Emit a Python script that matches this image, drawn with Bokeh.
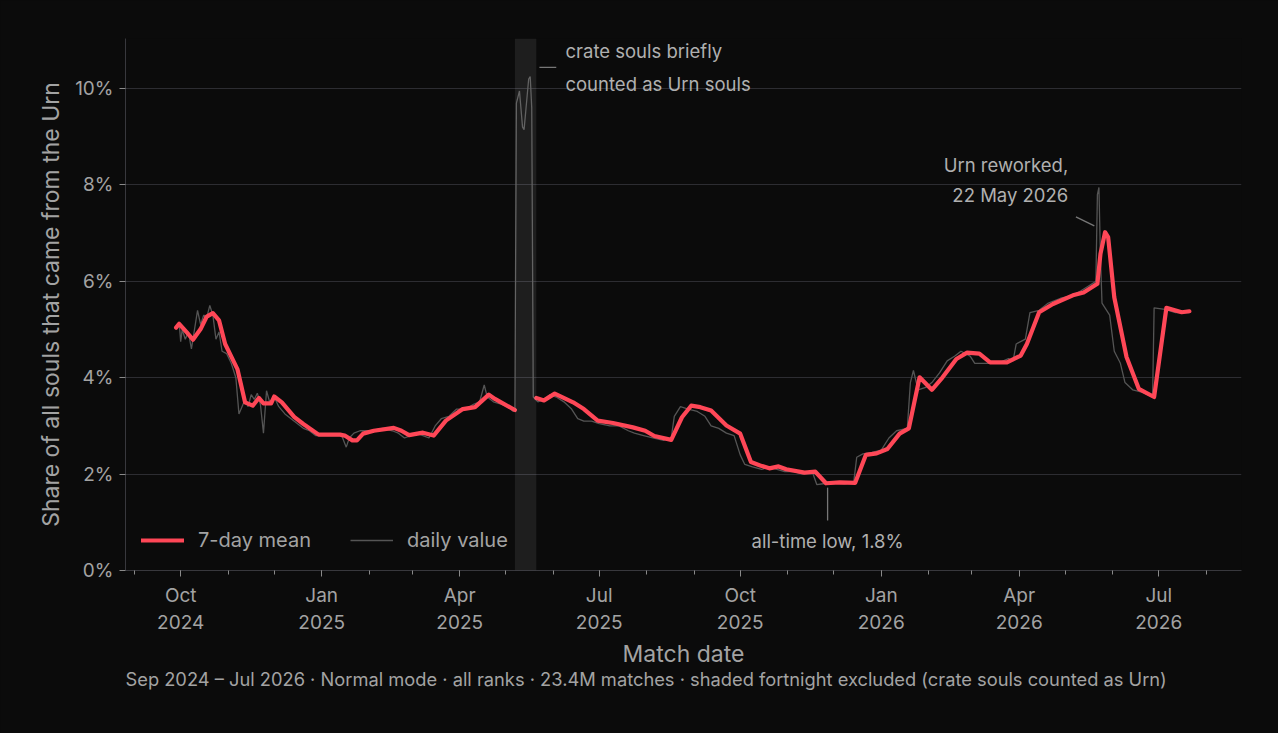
import numpy as np
import pandas as pd
from bokeh.plotting import figure
from bokeh.models import (Range1d, FixedTicker, BoxAnnotation, Label, Title,
                          PrintfTickFormatter, ColumnDataSource)
from bokeh.embed import file_html
from bokeh.resources import INLINE

# ---------------- data ----------------
mean_dates = [
    "2024-09-28", "2024-09-30", "2024-10-05", "2024-10-09", "2024-10-14", "2024-10-18",
    "2024-10-22", "2024-10-26", "2024-10-30", "2024-11-07", "2024-11-12", "2024-11-17",
    "2024-11-21", "2024-11-24", "2024-11-29", "2024-12-01", "2024-12-06", "2024-12-14",
    "2024-12-20", "2024-12-30", "2025-01-13", "2025-01-16", "2025-01-21", "2025-01-24",
    "2025-01-28", "2025-02-04", "2025-02-17", "2025-02-22", "2025-02-27", "2025-03-08",
    "2025-03-15", "2025-03-23", "2025-04-03", "2025-04-11", "2025-04-20", "2025-04-24",
    "2025-05-07", "2025-05-14", "2025-05-21", "2025-05-26", "2025-06-02", "2025-06-14",
    "2025-06-21", "2025-06-30", "2025-07-10", "2025-07-23", "2025-07-31", "2025-08-06",
    "2025-08-17", "2025-08-24", "2025-08-30", "2025-09-05", "2025-09-12", "2025-09-22",
    "2025-10-01", "2025-10-08", "2025-10-14", "2025-10-20", "2025-10-26", "2025-10-31",
    "2025-11-12", "2025-11-19", "2025-11-26", "2025-12-05", "2025-12-15", "2025-12-22",
    "2025-12-29", "2026-01-05", "2026-01-13", "2026-01-19", "2026-01-26", "2026-02-03",
    "2026-02-10", "2026-02-19", "2026-02-26", "2026-03-06", "2026-03-13", "2026-03-24",
    "2026-04-02", "2026-04-06", "2026-04-14", "2026-04-23", "2026-05-06", "2026-05-13",
    "2026-05-22", "2026-05-24", "2026-05-27", "2026-05-29", "2026-06-02", "2026-06-10",
    "2026-06-18", "2026-06-28", "2026-07-06", "2026-07-16", "2026-07-21",
]
mean_values = [
    5.04, 5.12, 4.94, 4.79, 5.01, 5.27,
    5.34, 5.19, 4.70, 4.18, 3.49, 3.42,
    3.58, 3.47, 3.47, 3.61, 3.49, 3.19,
    3.04, 2.82, 2.82, 2.80, 2.70, 2.70,
    2.84, 2.90, 2.96, 2.90, 2.81, 2.86,
    2.80, 3.11, 3.35, 3.39, 3.65, 3.56,
    3.33, np.nan, 3.58, 3.53, 3.67, 3.49,
    3.35, 3.11, 3.06, 2.97, 2.90, 2.79,
    2.71, 3.18, 3.42, 3.39, 3.32, 3.01,
    2.84, 2.25, 2.18, 2.12, 2.16, 2.10,
    2.03, 2.05, 1.81, 1.83, 1.82, 2.40,
    2.43, 2.52, 2.84, 2.95, 4.01, 3.75,
    4.01, 4.39, 4.52, 4.50, 4.32, 4.32,
    4.46, 4.70, 5.36, 5.53, 5.71, 5.77,
    5.95, 6.57, 7.02, 6.92, 5.67, 4.43,
    3.77, 3.60, 5.45, 5.36, 5.38,
]

daily_dates = [
    "2024-09-28", "2024-09-30", "2024-10-01", "2024-10-02", "2024-10-04", "2024-10-06",
    "2024-10-08", "2024-10-10", "2024-10-12", "2024-10-14", "2024-10-16", "2024-10-18",
    "2024-10-20", "2024-10-22", "2024-10-24", "2024-10-26", "2024-10-28", "2024-10-31",
    "2024-11-03", "2024-11-06", "2024-11-08", "2024-11-10", "2024-11-12", "2024-11-14",
    "2024-11-16", "2024-11-18", "2024-11-20", "2024-11-22", "2024-11-24", "2024-11-26",
    "2024-11-28", "2024-12-01", "2024-12-04", "2024-12-08", "2024-12-12", "2024-12-16",
    "2024-12-20", "2024-12-24", "2024-12-28", "2025-01-02", "2025-01-08", "2025-01-14",
    "2025-01-17", "2025-01-19", "2025-01-22", "2025-01-26", "2025-02-02", "2025-02-10",
    "2025-02-16", "2025-02-20", "2025-02-24", "2025-02-28", "2025-03-04", "2025-03-08",
    "2025-03-12", "2025-03-16", "2025-03-20", "2025-03-25", "2025-03-30", "2025-04-05",
    "2025-04-10", "2025-04-14", "2025-04-17", "2025-04-19", "2025-04-23", "2025-04-28",
    "2025-05-02", "2025-05-06", "2025-05-07", "2025-05-08", "2025-05-10", "2025-05-12",
    "2025-05-13", "2025-05-14", "2025-05-16", "2025-05-17", "2025-05-18", "2025-05-19",
    "2025-05-22", "2025-05-26", "2025-05-30", "2025-06-03", "2025-06-08", "2025-06-13",
    "2025-06-17", "2025-06-21", "2025-06-26", "2025-07-01", "2025-07-08", "2025-07-14",
    "2025-07-20", "2025-07-24", "2025-07-30", "2025-08-05", "2025-08-12", "2025-08-17",
    "2025-08-19", "2025-08-23", "2025-08-28", "2025-09-03", "2025-09-08", "2025-09-12",
    "2025-09-17", "2025-09-22", "2025-09-27", "2025-10-01", "2025-10-04", "2025-10-09",
    "2025-10-15", "2025-10-20", "2025-10-25", "2025-10-30", "2025-11-05", "2025-11-11",
    "2025-11-17", "2025-11-20", "2025-11-24", "2025-12-01", "2025-12-08", "2025-12-14",
    "2025-12-16", "2025-12-20", "2025-12-26", "2026-01-01", "2026-01-06", "2026-01-11",
    "2026-01-18", "2026-01-20", "2026-01-22", "2026-01-25", "2026-01-30", "2026-02-03",
    "2026-02-08", "2026-02-13", "2026-02-18", "2026-02-22", "2026-02-28", "2026-03-03",
    "2026-03-10", "2026-03-18", "2026-03-25", "2026-03-28", "2026-03-30", "2026-04-05",
    "2026-04-08", "2026-04-14", "2026-04-20", "2026-04-28", "2026-05-05", "2026-05-11",
    "2026-05-16", "2026-05-21", "2026-05-22", "2026-05-23", "2026-05-24", "2026-05-25",
    "2026-05-30", "2026-06-02", "2026-06-06", "2026-06-09", "2026-06-14", "2026-06-20",
    "2026-06-27", "2026-06-28", "2026-07-05", "2026-07-12", "2026-07-21",
]
daily_values = [
    5.00, 5.15, 4.75, 5.00, 4.80, 4.95,
    4.60, 5.00, 5.40, 5.10, 5.30, 5.25,
    5.50, 5.30, 4.80, 4.95, 4.55, 4.50,
    4.30, 4.00, 3.25, 3.40, 3.55, 3.40,
    3.65, 3.55, 3.68, 3.45, 2.85, 3.73,
    3.50, 3.60, 3.40, 3.25, 3.15, 3.05,
    2.95, 2.90, 2.80, 2.80, 2.80, 2.80,
    2.56, 2.75, 2.85, 2.90, 2.90, 2.95,
    2.90, 2.85, 2.75, 2.80, 2.85, 2.80,
    2.75, 3.00, 3.15, 3.20, 3.35, 3.35,
    3.45, 3.50, 3.85, 3.60, 3.50, 3.45,
    3.40, 3.30, 3.35, 9.70, 9.95, 9.20,
    9.15, 9.50, 10.20, 10.25, 9.60, 3.60,
    3.50, 3.55, 3.65, 3.60, 3.50, 3.35,
    3.15, 3.10, 3.10, 3.05, 3.00, 3.00,
    2.90, 2.85, 2.80, 2.75, 2.70, 2.75,
    3.20, 3.40, 3.35, 3.30, 3.20, 3.00,
    2.95, 2.85, 2.80, 2.40, 2.20, 2.15,
    2.10, 2.15, 2.10, 2.05, 2.05, 2.00,
    2.05, 1.78, 1.80, 1.82, 1.80, 1.82,
    2.35, 2.42, 2.45, 2.50, 2.75, 2.90,
    2.95, 3.90, 4.15, 3.75, 3.80, 3.90,
    4.10, 4.35, 4.45, 4.55, 4.45, 4.30,
    4.30, 4.30, 4.40, 4.35, 4.70, 4.80,
    5.35, 5.40, 5.55, 5.65, 5.70, 5.80,
    5.90, 6.00, 7.80, 7.95, 6.50, 5.55,
    5.30, 4.55, 4.30, 3.90, 3.75, 3.70,
    3.60, 5.45, 5.42, 5.35, 5.35,
]

excluded_start = "2025-05-07"
excluded_end = "2025-05-21"

x_start, x_end = "2024-08-26", "2026-08-24"
y_min, y_max = 0, 11.04

major_tick_dates = ["2024-10-01", "2025-01-01", "2025-04-01", "2025-07-01",
                    "2025-10-01", "2026-01-01", "2026-04-01", "2026-07-01"]
major_tick_labels = ["Oct\n2024", "Jan\n2025", "Apr\n2025", "Jul\n2025",
                     "Oct\n2025", "Jan\n2026", "Apr\n2026", "Jul\n2026"]
minor_tick_dates = [d.strftime("%Y-%m-%d") for d in pd.date_range("2024-09-01", "2026-08-01", freq="MS")]
y_ticks = [0, 2, 4, 6, 8, 10]

footer = ("Sep 2024 \u2013 Jul 2026 \u00b7 Normal mode \u00b7 all ranks \u00b7 23.4M matches "
          "\u00b7 shaded fortnight excluded (crate souls counted as Urn)")


def ms(d):
    return int(pd.Timestamp(d).value // 10**6)


BG = "#0b0b0b"
TXT = "#a3a3a3"
RED = "#ff4757"
GREY = "#555555"
RULE = "#2d2d32"
FONT = "Inter"

p = figure(width=1278, height=733, x_axis_type="datetime",
           output_backend="svg", toolbar_location=None,
           x_range=Range1d(ms(x_start), ms(x_end)), y_range=Range1d(y_min, y_max),
           background_fill_color=BG, border_fill_color=BG,
           min_border_left=125, min_border_right=37, min_border_top=38, min_border_bottom=163)
p.outline_line_color = None
p.styles = {"background-color": BG}

# shaded fortnight
p.add_layout(BoxAnnotation(left=ms(excluded_start), right=ms(excluded_end),
                           fill_color="#ffffff", fill_alpha=0.08, line_color=None))

# lines
daily_src = ColumnDataSource(dict(x=[ms(d) for d in daily_dates], y=daily_values))
mean_src = ColumnDataSource(dict(x=[ms(d) for d in mean_dates], y=mean_values))
p.line("x", "y", source=daily_src, line_color=GREY, line_width=1.3, legend_label="daily value")
p.line("x", "y", source=mean_src, line_color=RED, line_width=4.2, line_join="round",
       line_cap="round", legend_label="7-day mean")

# legend order: mean first
lg = p.legend[0]
items = list(lg.items)
lg.items = [items[1], items[0]]
lg.orientation = "horizontal"
lg.location = (16, 18)
lg.background_fill_alpha = 0
lg.border_line_color = None
lg.label_text_color = TXT
lg.label_text_font = FONT
lg.label_text_font_size = "20px"
lg.glyph_width = 43
lg.label_standoff = 14
lg.spacing = 39
lg.padding = 6
lg.margin = 0

# axes
xa = p.xaxis[0]
xa.ticker = FixedTicker(ticks=[ms(d) for d in major_tick_dates],
                        minor_ticks=[ms(d) for d in minor_tick_dates])
xa.major_label_overrides = {ms(d): lab for d, lab in zip(major_tick_dates, major_tick_labels)}
xa.axis_label = "Match date"
ya = p.yaxis[0]
ya.ticker = FixedTicker(ticks=y_ticks)
ya.formatter = PrintfTickFormatter(format="%d%%")
ya.axis_label = "Share of all souls that came from the Urn"

for ax in (xa, ya):
    ax.axis_line_color = "#38383d"
    ax.major_tick_line_color = "#8a8a8a"
    ax.minor_tick_line_color = "#8a8a8a"
    ax.major_tick_out = 6
    ax.major_tick_in = 0
    ax.minor_tick_out = 4
    ax.minor_tick_in = 0
    ax.major_label_text_color = TXT
    ax.major_label_text_font = FONT
    ax.major_label_text_font_size = "19px"
    ax.axis_label_text_color = TXT
    ax.axis_label_text_font = FONT
    ax.axis_label_text_font_size = "23px"
    ax.axis_label_text_font_style = "normal"
ya.minor_tick_line_color = None
ya.major_label_standoff = 6
ya.axis_label_standoff = 7
xa.major_label_standoff = 7
xa.axis_label_standoff = 3

p.xgrid.grid_line_color = None
p.ygrid.grid_line_color = RULE
p.ygrid.grid_line_width = 1.2

# annotations
ANN = "#b0b0b0"


def add_label(x, y, text, align, size="18.5px", color=ANN):
    p.add_layout(Label(x=ms(x), y=y, text=text, text_color=color, text_font=FONT,
                       text_font_size=size, text_baseline="middle", text_align=align))


crate_x = "2025-06-09"
add_label(crate_x, 10.79, "crate souls briefly", "left")
add_label(crate_x, 10.10, "counted as Urn souls", "left")
urn_x = "2026-05-03"
add_label(urn_x, 8.42, "Urn reworked,", "right")
add_label(urn_x, 7.80, "22 May 2026", "right")
low_x = "2025-11-27"
add_label(low_x, 0.62, "all-time low, 1.8%", "center")

# leader lines
lead_x0 = [ms("2025-05-23"), ms("2026-05-08"), ms(low_x)]
lead_x1 = [ms("2025-06-03"), ms("2026-05-20"), ms(low_x)]
lead_y0 = [10.44, 7.34, 1.72]
lead_y1 = [10.44, 7.15, 1.04]
p.segment(lead_x0, lead_y0, lead_x1, lead_y1, line_color="#777777", line_width=1.3)

# footer
p.add_layout(Title(text=footer, align="left", text_color=TXT, text_font=FONT,
                   text_font_size="18.3px", text_font_style="normal", standoff=-12,
                   text_line_height=0.8), "below")

open("out.html", "w").write(file_html(p, INLINE))
